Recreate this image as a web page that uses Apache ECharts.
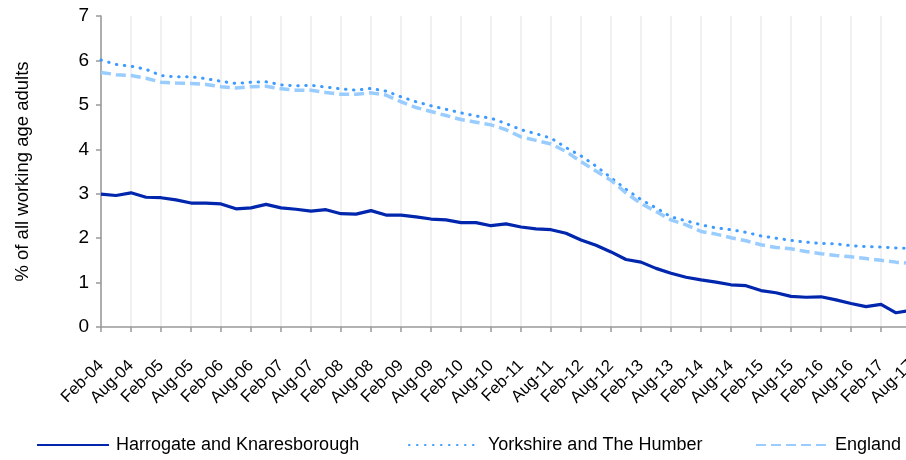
<!DOCTYPE html>
<html lang="en">
<head>
    <meta charset="UTF-8">
    <script src="https://cdn.jsdelivr.net/npm/echarts@6/dist/echarts.min.js"></script>
    <title>Claimant rate</title>
    <style>
        html, body {
            margin: 0;
            padding: 0;
            width: 100%;
            height: 100%;
            overflow: hidden;
            background: #fff;
        }
        #chart {
            width: 906px;
            height: 460px;
        }
    </style>
</head>
<body>
<div id="chart"></div>
<script>
    // quarterly points, Feb-04 .. Aug-17
    var categories = [
        'Feb-04', 'May-04', 'Aug-04', 'Nov-04', 'Feb-05', 'May-05', 'Aug-05', 'Nov-05',
        'Feb-06', 'May-06', 'Aug-06', 'Nov-06', 'Feb-07', 'May-07', 'Aug-07', 'Nov-07',
        'Feb-08', 'May-08', 'Aug-08', 'Nov-08', 'Feb-09', 'May-09', 'Aug-09', 'Nov-09',
        'Feb-10', 'May-10', 'Aug-10', 'Nov-10', 'Feb-11', 'May-11', 'Aug-11', 'Nov-11',
        'Feb-12', 'May-12', 'Aug-12', 'Nov-12', 'Feb-13', 'May-13', 'Aug-13', 'Nov-13',
        'Feb-14', 'May-14', 'Aug-14', 'Nov-14', 'Feb-15', 'May-15', 'Aug-15', 'Nov-15',
        'Feb-16', 'May-16', 'Aug-16', 'Nov-16', 'Feb-17', 'May-17', 'Aug-17'
    ];

    var harrogate = [
        2.99, 2.96, 3.02, 2.92, 2.91, 2.86, 2.79, 2.79, 2.77, 2.66, 2.68, 2.76, 2.68, 2.65,
        2.61, 2.64, 2.55, 2.54, 2.62, 2.52, 2.52, 2.48, 2.43, 2.41, 2.35, 2.35, 2.28, 2.32,
        2.25, 2.21, 2.19, 2.11, 1.96, 1.84, 1.69, 1.52, 1.46, 1.32, 1.21, 1.12, 1.06, 1.01,
        0.95, 0.93, 0.82, 0.77, 0.69, 0.67, 0.68, 0.61, 0.53, 0.46, 0.51, 0.32, 0.38
    ];

    var yorkshire = [
        6.01, 5.91, 5.87, 5.80, 5.66, 5.63, 5.63, 5.59, 5.53, 5.48, 5.51, 5.52, 5.45, 5.43,
        5.44, 5.40, 5.36, 5.33, 5.37, 5.31, 5.18, 5.07, 4.98, 4.90, 4.82, 4.75, 4.70, 4.58,
        4.44, 4.35, 4.25, 4.04, 3.85, 3.62, 3.36, 3.10, 2.87, 2.68, 2.48, 2.39, 2.30, 2.23,
        2.19, 2.13, 2.05, 2.00, 1.95, 1.91, 1.88, 1.87, 1.83, 1.81, 1.80, 1.78, 1.77
    ];

    var england = [
        5.73, 5.68, 5.66, 5.60, 5.51, 5.49, 5.48, 5.46, 5.41, 5.38, 5.41, 5.42, 5.36, 5.33,
        5.33, 5.28, 5.24, 5.24, 5.27, 5.22, 5.07, 4.94, 4.85, 4.76, 4.67, 4.61, 4.55, 4.44,
        4.28, 4.20, 4.12, 3.95, 3.72, 3.51, 3.30, 3.02, 2.78, 2.60, 2.41, 2.30, 2.15, 2.09,
        2.01, 1.94, 1.85, 1.79, 1.76, 1.70, 1.65, 1.61, 1.58, 1.54, 1.50, 1.46, 1.43
    ];

    var font = 'Liberation Sans, Arial, sans-serif';
    var myChart = echarts.init(document.getElementById('chart'));

    function legendAt(name, left) {
        return {
            data: [name],
            left: left,
            top: 436,
            itemWidth: 72,
            itemHeight: 14,
            itemGap: 0,
            padding: 0,
            itemStyle: {opacity: 0},
            textStyle: {fontFamily: font, fontSize: 18, color: '#000', padding: [0, 0, 0, 2]},
            lineStyle: {width: 2}
        };
    }

    var option = {
        animation: false,
        backgroundColor: '#fff',
        grid: {
            left: 101, width: 810, top: 16, bottom: 133,
            containLabel: false,
            outerBoundsMode: 'none'
        },
        legend: [
            legendAt('Harrogate and Knaresborough', 36),
            legendAt('Yorkshire and The Humber', 408),
            legendAt('England', 755)
        ],
        xAxis: {
            type: 'category',
            boundaryGap: false,
            data: categories,
            axisLine: {lineStyle: {color: '#999', width: 1.5}},
            axisTick: {interval: 1, length: 5, lineStyle: {color: '#999', width: 1.5}},
            axisLabel: {
                interval: 1,
                rotate: 45,
                margin: 36,
                fontFamily: font,
                fontSize: 16.5,
                color: '#000'
            },
            splitLine: {show: true, interval: 1, lineStyle: {color: '#f0f0f0', width: 2}}
        },
        yAxis: {
            type: 'value',
            min: 0,
            max: 7,
            interval: 1,
            name: '% of all working age adults',
            nameLocation: 'middle',
            nameGap: 69,
            nameTextStyle: {fontFamily: font, fontSize: 18.5, color: '#000'},
            axisLine: {show: true, lineStyle: {color: '#999', width: 1.5}},
            axisTick: {show: true, length: 5, lineStyle: {color: '#999', width: 1.5}},
            axisLabel: {fontFamily: font, fontSize: 19, color: '#000', margin: 12},
            splitLine: {show: false}
        },
        series: [
            {
                name: 'Harrogate and Knaresborough',
                type: 'line',
                data: harrogate,
                symbol: 'none',
                color: '#0026ad',
                lineStyle: {color: '#0026ad', width: 3.2}
            },
            {
                name: 'Yorkshire and The Humber',
                type: 'line',
                data: yorkshire,
                symbol: 'none',
                color: '#3d9bff',
                lineStyle: {color: '#3d9bff', width: 3, type: [0.5, 7.5], cap: 'round'}
            },
            {
                name: 'England',
                type: 'line',
                data: england,
                symbol: 'none',
                color: '#99ccff',
                lineStyle: {color: '#99ccff', width: 3.5, type: [10, 5]}
            }
        ]
    };

    myChart.setOption(option);
</script>
</body>
</html>
